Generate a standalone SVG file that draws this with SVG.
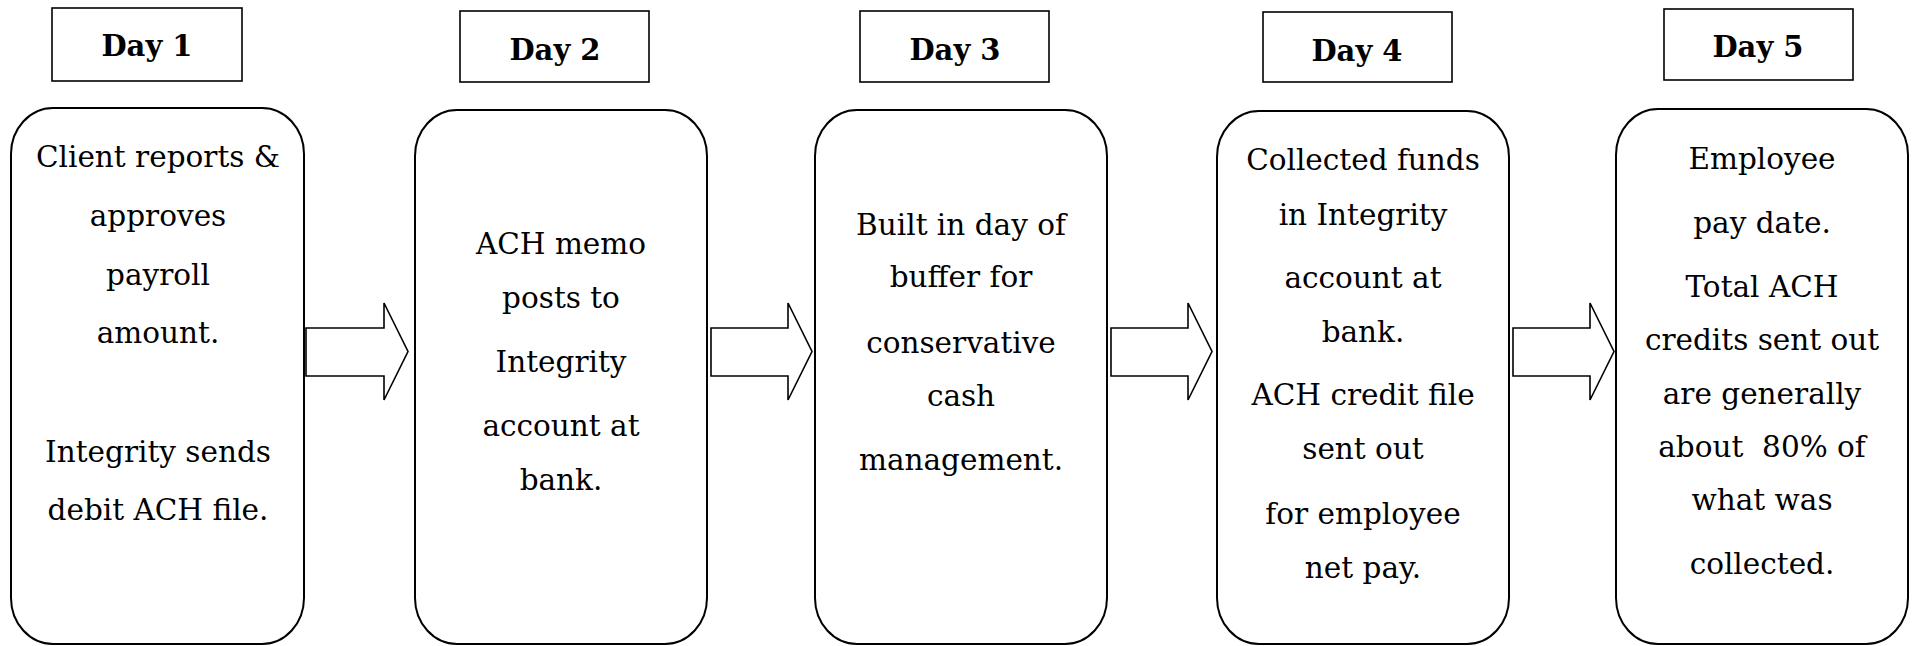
<svg xmlns="http://www.w3.org/2000/svg" width="1915" height="646" viewBox="0 0 1915 646">
<style>
.lbl{fill:#fff;stroke:#000;stroke-width:1.6}
.box{fill:#fff;stroke:#000;stroke-width:2}
.day{font-family:"DejaVu Serif","Liberation Serif",serif;font-weight:bold;font-size:29px;text-anchor:middle;fill:#000}
.txt{font-family:"DejaVu Serif","Liberation Serif",serif;font-size:29.5px;text-anchor:middle;fill:#000}
.arr{fill:#fff;stroke:#000;stroke-width:1.6;stroke-linejoin:miter}
</style>
<rect width="1915" height="646" fill="#fff"/>
<g id="day1">
<rect class="lbl" x="52" y="8" width="190" height="73"/>
<text class="day" x="147" y="56">Day 1</text>
<rect class="box" x="11" y="108" width="293" height="536" rx="42" ry="46"/>
<text class="txt" x="158" y="167">Client reports &amp;</text>
<text class="txt" x="158" y="226">approves</text>
<text class="txt" x="158" y="285">payroll</text>
<text class="txt" x="158" y="343">amount.</text>
<text class="txt" x="158" y="462">Integrity sends</text>
<text class="txt" x="158" y="520">debit ACH file.</text>
</g>
<g id="day2">
<rect class="lbl" x="460" y="11" width="189" height="71"/>
<text class="day" x="555" y="60">Day 2</text>
<rect class="box" x="415" y="110" width="292" height="534" rx="42" ry="46"/>
<text class="txt" x="561" y="254">ACH memo</text>
<text class="txt" x="561" y="308">posts to</text>
<text class="txt" x="561" y="372">Integrity</text>
<text class="txt" x="561" y="436">account at</text>
<text class="txt" x="561" y="490">bank.</text>
</g>
<g id="day3">
<rect class="lbl" x="860" y="11" width="189" height="71"/>
<text class="day" x="955" y="60">Day 3</text>
<rect class="box" x="815" y="110" width="292" height="534" rx="42" ry="46"/>
<text class="txt" x="961" y="235">Built in day of</text>
<text class="txt" x="961" y="287">buffer for</text>
<text class="txt" x="961" y="353">conservative</text>
<text class="txt" x="961" y="406">cash</text>
<text class="txt" x="961" y="470">management.</text>
</g>
<g id="day4">
<rect class="lbl" x="1263" y="12" width="189" height="70"/>
<text class="day" x="1357" y="61">Day 4</text>
<rect class="box" x="1217" y="111" width="292" height="533" rx="42" ry="46"/>
<text class="txt" x="1363" y="170">Collected funds</text>
<text class="txt" x="1363" y="225">in Integrity</text>
<text class="txt" x="1363" y="288">account at</text>
<text class="txt" x="1363" y="342">bank.</text>
<text class="txt" x="1363" y="405">ACH credit file</text>
<text class="txt" x="1363" y="459">sent out</text>
<text class="txt" x="1363" y="524">for employee</text>
<text class="txt" x="1363" y="578">net pay.</text>
</g>
<g id="day5">
<rect class="lbl" x="1664" y="9" width="189" height="71"/>
<text class="day" x="1758" y="57">Day 5</text>
<rect class="box" x="1616" y="109" width="292" height="535" rx="42" ry="46"/>
<text class="txt" x="1762" y="169">Employee</text>
<text class="txt" x="1762" y="233">pay date.</text>
<text class="txt" x="1762" y="297">Total ACH</text>
<text class="txt" x="1762" y="350">credits sent out</text>
<text class="txt" x="1762" y="404">are generally</text>
<text class="txt" x="1762" y="457" xml:space="preserve">about  80% of</text>
<text class="txt" x="1762" y="510">what was</text>
<text class="txt" x="1762" y="574">collected.</text>
</g>
<g id="connectors">
<polygon class="arr" points="306,328 384,328 384,303 408,351.5 384,400 384,376 306,376"/>
<polygon class="arr" points="711,328 788,328 788,303 812,351.5 788,400 788,376 711,376"/>
<polygon class="arr" points="1111,328 1188,328 1188,303 1212,351.5 1188,400 1188,376 1111,376"/>
<polygon class="arr" points="1513,328 1590,328 1590,303 1614,351.5 1590,400 1590,376 1513,376"/>
</g>
</svg>
